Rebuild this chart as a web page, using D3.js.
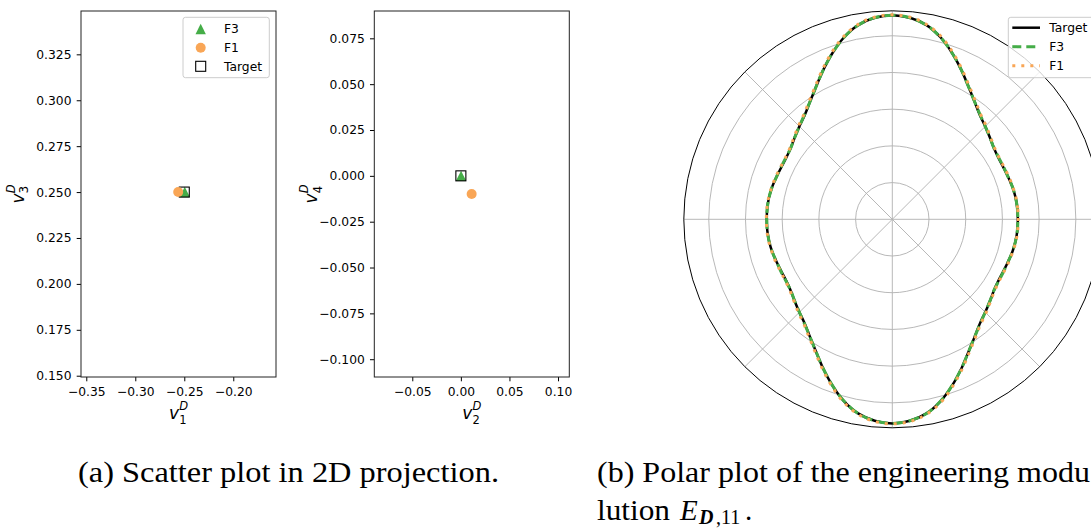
<!DOCTYPE html>
<html><head><meta charset="utf-8">
<script src="https://cdn.jsdelivr.net/npm/d3@7"></script>
<style>html,body{margin:0;padding:0;background:#fff;overflow:hidden}svg{display:block}</style>
</head><body>
<svg id="c" width="1091" height="529"></svg>
<script>
// ---------------- data ----------------
const scatterSeries = ["F3", "F1", "Target"];
const v1 = [-0.2495, -0.2562, -0.2500];
const v3 = [0.2500, 0.2500, 0.2500];
const v2 = [0.0002, 0.0111, 0.0000];
const v4 = [0.0000, -0.0099, 0.0000];
const ticksV1 = [-0.35, -0.30, -0.25, -0.20];
const ticksV3 = [0.150, 0.175, 0.200, 0.225, 0.250, 0.275, 0.300, 0.325];
const ticksV2 = [-0.05, 0.00, 0.05, 0.10];
const ticksV4 = [-0.100, -0.075, -0.050, -0.025, 0.000, 0.025, 0.050, 0.075];

const polarSeries = ["Target", "F3", "F1"];
const polarAnglesDeg = [0,5,10,15,20,25,30,35,40,45,50,55,60,65,70,75,80,85,90,
  95,100,105,110,115,120,125,130,135,140,145,150,155,160,165,170,175,
  180,185,190,195,200,205,210,215,220,225,230,235,240,245,250,255,260,265,270,
  275,280,285,290,295,300,305,310,315,320,325,330,335,340,345,350,355];
const rTarget = [3.42,3.42,3.41,3.39,3.36,3.34,3.34,3.38,3.47,3.58,3.71,3.91,4.16,4.47,4.80,5.12,5.37,5.51,5.56,
  5.51,5.37,5.12,4.80,4.47,4.16,3.91,3.71,3.58,3.47,3.38,3.34,3.34,3.36,3.39,3.41,3.42,
  3.42,3.42,3.41,3.39,3.36,3.34,3.34,3.38,3.47,3.58,3.71,3.91,4.16,4.47,4.80,5.12,5.37,5.51,5.56,
  5.51,5.37,5.12,4.80,4.47,4.16,3.91,3.71,3.58,3.47,3.38,3.34,3.34,3.36,3.39,3.41,3.42];
const rF3 = [3.42,3.42,3.41,3.39,3.36,3.35,3.35,3.38,3.47,3.58,3.72,3.91,4.16,4.47,4.80,5.12,5.37,5.51,5.56,
  5.51,5.37,5.12,4.80,4.47,4.16,3.91,3.72,3.58,3.47,3.38,3.35,3.35,3.36,3.39,3.41,3.42,
  3.42,3.42,3.41,3.39,3.36,3.35,3.35,3.38,3.47,3.58,3.72,3.91,4.16,4.47,4.80,5.12,5.37,5.51,5.56,
  5.51,5.37,5.12,4.80,4.47,4.16,3.91,3.72,3.58,3.47,3.38,3.35,3.35,3.36,3.39,3.41,3.42];
const rF1 = [3.43,3.43,3.42,3.40,3.38,3.36,3.36,3.40,3.49,3.61,3.74,3.94,4.19,4.50,4.83,5.15,5.39,5.53,5.57,
  5.53,5.39,5.15,4.83,4.50,4.19,3.94,3.74,3.61,3.49,3.40,3.36,3.36,3.38,3.40,3.42,3.43,
  3.43,3.43,3.42,3.40,3.38,3.36,3.36,3.40,3.49,3.61,3.74,3.94,4.19,4.50,4.83,5.15,5.39,5.53,5.57,
  5.53,5.39,5.15,4.83,4.50,4.19,3.94,3.74,3.61,3.49,3.40,3.36,3.36,3.38,3.40,3.42,3.43];
const radialTicks = [1, 2, 3, 4, 5];
const angularTicksDeg = [0, 45, 90, 135, 180, 225, 270, 315];
const radialMax = 5.68;

const captionA = "(a) Scatter plot in 2D projection.";
const captionB1 = "(b) Polar plot of the engineering modu";
const captionB2 = "lution";

// ---------------- style ----------------
const GREEN = "#45ad48", ORANGE = "#f9a656";
const TICKFONT = "DejaVu Sans", FS = 12.3;
const svg = d3.select("#c");
svg.append("rect").attr("width", 1091).attr("height", 529).attr("fill", "#fff");

// v^D_k as one text element (v, then superscript and subscript stacked at the same x)
function mathLabel(x, y, base, sup, sub, rotate) {
  const outer = svg.append("g").attr("transform", `translate(${x},${y})` + (rotate ? " rotate(-90)" : ""));
  const t = outer.append("text").attr("font-family", TICKFONT).attr("fill", "#000");
  const tv = t.append("tspan").attr("font-style", "italic").attr("font-size", 17).text(base);
  const w = tv.node().getComputedTextLength();
  const ts = t.append("tspan").attr("x", w + 0.3).attr("y", -9).attr("font-style", "italic")
    .attr("font-size", 11.5).text(sup);
  const sw = ts.node().getComputedTextLength();
  const tb = t.append("tspan").attr("x", w + 0.3).attr("y", 4.9).attr("font-size", 11.5).text(sub);
  const bw = tb.node().getComputedTextLength();
  const total = w + 0.3 + Math.max(sw, bw);
  t.attr("transform", `translate(${-total / 2},0)`);
}

function markerTriangle(sel, cx, cy, s) {
  sel.append("path").attr("d", `M${cx},${cy - s}L${cx + s},${cy + s}L${cx - s},${cy + s}Z`).attr("fill", GREEN);
}
function markerCircle(sel, cx, cy, r) {
  sel.append("circle").attr("cx", cx).attr("cy", cy).attr("r", r).attr("fill", ORANGE);
}
function markerSquare(sel, cx, cy, h) {
  sel.append("rect").attr("x", cx - h).attr("y", cy - h).attr("width", 2 * h).attr("height", 2 * h)
    .attr("fill", "none").attr("stroke", "#000").attr("stroke-width", 1.1);
}

function scatterPanel(cfg) {
  const T = 11, B = 377;
  const x = d3.scaleLinear().domain(cfg.xd).range([cfg.L, cfg.R]);
  const y = d3.scaleLinear().domain(cfg.yd).range([B, T]);
  const g = svg.append("g");
  const ax = g.append("g").attr("transform", `translate(0,${B})`)
    .call(d3.axisBottom(x).tickValues(cfg.xt).tickFormat(d3.format(cfg.xf)).tickSizeInner(4.3).tickSizeOuter(0).tickPadding(6));
  const ay = g.append("g").attr("transform", `translate(${cfg.L},0)`)
    .call(d3.axisLeft(y).tickValues(cfg.yt).tickFormat(d3.format(cfg.yf)).tickSizeInner(4.3).tickSizeOuter(0).tickPadding(5.2));
  [ax, ay].forEach(a => {
    a.select(".domain").remove();
    a.selectAll("text").attr("font-family", TICKFONT).attr("font-size", FS).attr("fill", "#000");
    a.selectAll("line").attr("stroke", "#000").attr("stroke-width", 1);
  });
  g.append("rect").attr("x", cfg.L).attr("y", T).attr("width", cfg.R - cfg.L).attr("height", B - T)
    .attr("fill", "none").attr("stroke", "#222").attr("stroke-width", 1);
  const m = g.append("g");
  // drawing order: F3, Target, F1
  markerTriangle(m, x(cfg.xs[0]), y(cfg.ys[0]), 5.2);
  markerSquare(m, x(cfg.xs[2]), y(cfg.ys[2]), 5);
  markerCircle(m, x(cfg.xs[1]), y(cfg.ys[1]), 5);
  mathLabel((cfg.L + cfg.R) / 2, 419, "v", "D", cfg.xsub, false);
  mathLabel(cfg.L - 57.5, (T + B) / 2, "v", "D", cfg.ysub, true);
  return g;
}

scatterPanel({L: 81, R: 276, xd: [-0.3554, -0.1564], yd: [0.1493, 0.3486], xt: ticksV1, yt: ticksV3,
  xf: ".2f", yf: ".3f", xs: v1, ys: v3, xsub: "1", ysub: "3"});
scatterPanel({L: 374.3, R: 569.3, xd: [-0.0891, 0.1116], yd: [-0.1097, 0.0899], xt: ticksV2, yt: ticksV4,
  xf: ".2f", yf: ".3f", xs: v2, ys: v4, xsub: "2", ysub: "4"});

// legend of scatter
(function () {
  const lg = svg.append("g");
  lg.append("rect").attr("x", 183).attr("y", 17.3).attr("width", 86.3).attr("height", 60.4).attr("rx", 2.5)
    .attr("fill", "#fff").attr("fill-opacity", 0.8).attr("stroke", "#ccc").attr("stroke-width", 1);
  const ys = [29, 47.7, 66.3];
  markerTriangle(lg, 200.7, ys[0], 5.2);
  markerCircle(lg, 200.7, ys[1], 5);
  markerSquare(lg, 200.7, ys[2], 5);
  scatterSeries.forEach((s, i) => lg.append("text").attr("x", 224).attr("y", ys[i] + 4.4)
    .attr("font-family", TICKFONT).attr("font-size", FS).attr("fill", "#000").text(s));
})();

// ---------------- polar ----------------
(function () {
  const cx = 892.3, cy = 219.3, R = 208.5;
  const r = d3.scaleLinear().domain([0, radialMax]).range([0, R]);
  const g = svg.append("g").attr("transform", `translate(${cx},${cy})`);
  g.selectAll(".ring").data(radialTicks).join("circle").attr("r", d => r(d))
    .attr("fill", "none").attr("stroke", "#b0b0b0").attr("stroke-width", 0.9);
  g.selectAll(".spoke").data(angularTicksDeg).join("line")
    .attr("x1", 0).attr("y1", 0)
    .attr("x2", d => R * Math.cos(d * Math.PI / 180)).attr("y2", d => -R * Math.sin(d * Math.PI / 180))
    .attr("stroke", "#b0b0b0").attr("stroke-width", 0.9);
  g.append("circle").attr("r", R).attr("fill", "none").attr("stroke", "#000").attr("stroke-width", 1);
  const line = d3.lineRadial()
    .angle(d => Math.PI / 2 - d[0] * Math.PI / 180)
    .radius(d => r(d[1]))
    .curve(d3.curveCatmullRomClosed.alpha(0.5));
  const mk = arr => polarAnglesDeg.map((a, i) => [a, arr[i]]);
  g.append("path").attr("d", line(mk(rTarget))).attr("fill", "none").attr("stroke", "#000").attr("stroke-width", 2.5);
  g.append("path").attr("d", line(mk(rF3))).attr("fill", "none").attr("stroke", GREEN).attr("stroke-width", 3)
    .attr("stroke-dasharray", "11,5");
  g.append("path").attr("d", line(mk(rF1))).attr("fill", "none").attr("stroke", ORANGE).attr("stroke-width", 3)
    .attr("stroke-dasharray", "3,6");

  const lg = svg.append("g");
  lg.append("rect").attr("x", 1008.3).attr("y", 17.3).attr("width", 100).attr("height", 60.4).attr("rx", 2.5)
    .attr("fill", "#fff").attr("fill-opacity", 0.8).attr("stroke", "#ccc").attr("stroke-width", 1);
  const ys = [27.7, 46.7, 65.7];
  const styles = [["#000", 2.5, null], [GREEN, 3, "9,5"], [ORANGE, 3, "3,6"]];
  polarSeries.forEach((s, i) => {
    const l = lg.append("line").attr("x1", 1012.3).attr("x2", 1040).attr("y1", ys[i]).attr("y2", ys[i])
      .attr("stroke", styles[i][0]).attr("stroke-width", styles[i][1]);
    if (styles[i][2]) l.attr("stroke-dasharray", styles[i][2]);
    lg.append("text").attr("x", 1049.3).attr("y", ys[i] + 4.4).attr("font-family", TICKFONT)
      .attr("font-size", FS).attr("fill", "#000").text(s);
  });
})();

// ---------------- captions ----------------
const SERIF = "'Liberation Serif', 'DejaVu Serif', serif";
svg.append("text").attr("x", 78).attr("y", 482).attr("font-family", SERIF).attr("font-size", 29)
  .attr("textLength", 421).attr("lengthAdjust", "spacingAndGlyphs").attr("fill", "#000").text(captionA);
svg.append("text").attr("x", 597).attr("y", 482).attr("font-family", SERIF).attr("font-size", 29)
  .attr("textLength", 493).attr("lengthAdjust", "spacingAndGlyphs").attr("fill", "#000").text(captionB1);
svg.append("text").attr("x", 597).attr("y", 520).attr("font-family", SERIF).attr("font-size", 29)
  .attr("textLength", 73).attr("lengthAdjust", "spacingAndGlyphs").attr("fill", "#000").text(captionB2);
// E_{D,11}. as one text element
(function () {
  const t = svg.append("text").attr("x", 680).attr("y", 520).attr("font-family", SERIF).attr("fill", "#000");
  t.append("tspan").attr("font-size", 29).attr("font-style", "italic").text("E");
  t.append("tspan").attr("x", 699).attr("dy", 3.5).attr("font-size", 20).attr("font-style", "italic")
    .attr("font-weight", "bold").text("D");
  t.append("tspan").attr("x", 716).attr("font-size", 20).text(",11");
  t.append("tspan").attr("x", 745).attr("dy", -3.5).attr("font-size", 29).text(".");
})();
</script>
</body></html>
